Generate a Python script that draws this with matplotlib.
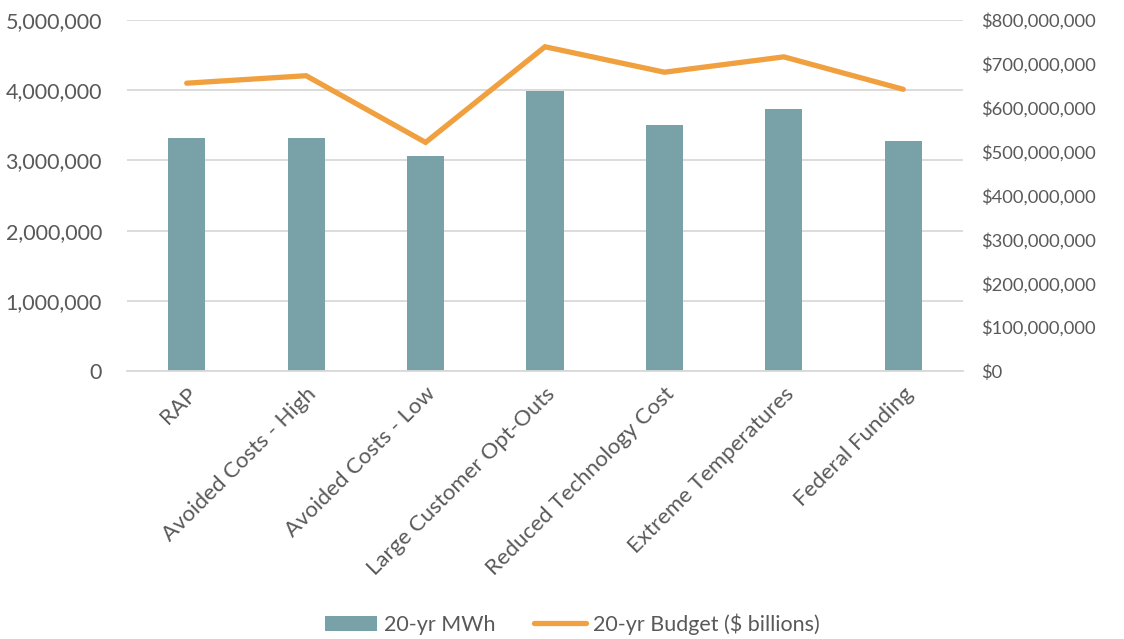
import matplotlib.pyplot as plt
from matplotlib.ticker import FuncFormatter, MultipleLocator
import numpy as np

categories = ["RAP", "Avoided Costs - High", "Avoided Costs - Low",
              "Large Customer Opt-Outs", "Reduced Technology Cost",
              "Extreme Temperatures", "Federal Funding"]
mwh_20yr = [3313000, 3320000, 3057000, 3995000, 3508000, 3730000, 3270000]
budget_20yr = [656000000, 673000000, 521000000, 739000000, 681000000,
               716000000, 642000000]

bar_color = "#78A2A8"
line_color = "#F0A03E"
text_color = "#595959"
grid_color = "#D9D9D9"

plt.rcParams['font.family'] = ['Lato', 'DejaVu Sans']

fig = plt.figure(figsize=(11.24, 6.39), dpi=100)
ax = fig.add_axes([127 / 1124, 1 - 371 / 639, (963 - 127) / 1124, (371 - 20) / 639])
ax2 = ax.twinx()

x = np.arange(len(categories))
ax.bar(x, mwh_20yr, width=0.31, color=bar_color, zorder=2, label="20-yr MWh")
ax2.plot(x, budget_20yr, color=line_color, linewidth=3.8, solid_capstyle='round',
         solid_joinstyle='miter', zorder=3, label="20-yr Budget ($ billions)")

ax.set_xlim(-0.5, len(categories) - 0.5)
ax.set_ylim(0, 5000000)
ax2.set_ylim(0, 800000000)
ax.yaxis.set_major_locator(MultipleLocator(1000000))
ax2.yaxis.set_major_locator(MultipleLocator(100000000))
ax.yaxis.set_major_formatter(FuncFormatter(lambda v, p: f"{v:,.0f}"))
ax2.yaxis.set_major_formatter(FuncFormatter(lambda v, p: f"${v:,.0f}"))

ax.grid(axis='y', color=grid_color, linewidth=1.3, zorder=0)
ax.set_axisbelow(True)
for a in (ax, ax2):
    for s in a.spines.values():
        s.set_visible(False)
    a.tick_params(axis='both', length=0, colors=text_color)
ax.spines['bottom'].set_visible(True)
ax.spines['bottom'].set_color(grid_color)
ax.spines['bottom'].set_linewidth(1.3)
ax.tick_params(axis='y', pad=18, labelsize=15.5)
ax2.tick_params(axis='y', pad=13, labelsize=13.2)

ax.set_xticks(x)
ax.set_xticklabels(categories, rotation=45, ha='right', rotation_mode='anchor')
ax.tick_params(axis='x', pad=9, labelsize=16)

h1, l1 = ax.get_legend_handles_labels()
h2, l2 = ax2.get_legend_handles_labels()
fig.legend(h1 + h2, l1 + l2, loc='center', bbox_to_anchor=(572 / 1124, 1 - 624 / 639),
           ncol=2, frameon=False, fontsize=15.5, labelcolor=text_color,
           handlelength=2.45, handletextpad=0.28, columnspacing=1.8)

fig.savefig("out.png", dpi=100)
